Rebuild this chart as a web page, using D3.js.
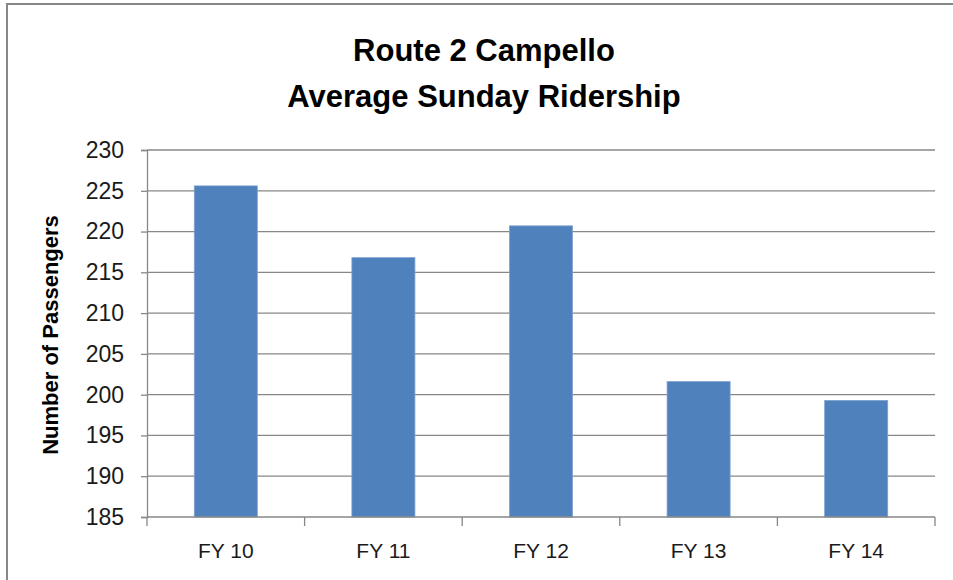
<!DOCTYPE html>
<html lang="en">
<head>
    <meta charset="UTF-8">
    <title>Route 2 Campello Average Sunday Ridership</title>
    <script src="https://d3js.org/d3.v7.min.js"></script>
    <style>
        body { margin: 0; background: #fff; }
        svg { display: block; font-family: "Liberation Sans", Arial, sans-serif; }
    </style>
</head>
<body>
    <svg id="chart" width="953" height="580"></svg>

    <script>
        // Chart data
        const years = ["FY 10", "FY 11", "FY 12", "FY 13", "FY 14"];
        const riders = [225.6, 216.8, 220.7, 201.6, 199.3];
        const yTicks = [185, 190, 195, 200, 205, 210, 215, 220, 225, 230];
        const titleLines = ["Route 2 Campello", "Average Sunday Ridership"];
        const yLabel = "Number of Passengers";

        const svg = d3.select("#chart");
        const plotLeft = 147, plotRight = 935, plotTop = 150, plotBottom = 517;
        const gray = "#878787";

        // outer frame (runs past the window edge)
        svg.append("rect")
            .attr("x", 7).attr("y", 4)
            .attr("width", 1000).attr("height", 700)
            .attr("fill", "none")
            .attr("stroke", gray)
            .attr("stroke-width", 2);

        // scales
        const x = d3.scaleBand()
            .domain(years)
            .range([plotLeft, plotRight])
            .paddingInner(0.6)
            .paddingOuter(0.3);

        const y = d3.scaleLinear()
            .domain([185, 230])
            .range([plotBottom, plotTop]);

        // gridlines
        svg.append("g")
            .selectAll("line")
            .data(yTicks.slice(1))
            .join("line")
            .attr("x1", plotLeft).attr("x2", plotRight)
            .attr("y1", d => y(d)).attr("y2", d => y(d))
            .attr("stroke", gray)
            .attr("stroke-width", 1.3);

        // bars
        svg.append("g")
            .selectAll("rect")
            .data(riders)
            .join("rect")
            .attr("x", (d, i) => x(years[i]))
            .attr("y", d => y(d))
            .attr("width", x.bandwidth())
            .attr("height", d => y(185) - y(d))
            .attr("fill", "#4F81BD")
            .attr("stroke", "#7ea2d0")
            .attr("stroke-width", 0.8);

        // y axis
        const yAxis = svg.append("g")
            .attr("transform", `translate(${plotLeft},0)`)
            .call(d3.axisLeft(y).tickValues(yTicks).tickSize(6).tickPadding(17));
        yAxis.select(".domain").attr("stroke", gray).attr("stroke-width", 1.3);
        yAxis.selectAll(".tick line").attr("stroke", gray).attr("stroke-width", 1.3);
        yAxis.selectAll("text")
            .attr("font-size", 23)
            .attr("fill", "#1a1a1a")
            .attr("font-family", "Liberation Sans, Arial, sans-serif");

        // x axis, ticks between categories
        const xAxis = svg.append("g")
            .attr("transform", `translate(0,${plotBottom})`);
        xAxis.append("line")
            .attr("x1", plotLeft).attr("x2", plotRight)
            .attr("stroke", gray).attr("stroke-width", 1.3);
        const bounds = years.map((d, i) => plotLeft + i * x.step());
        bounds.push(plotRight);
        xAxis.selectAll(".xt")
            .data(bounds)
            .join("line")
            .attr("class", "xt")
            .attr("x1", d => d).attr("x2", d => d)
            .attr("y1", 0).attr("y2", 9)
            .attr("stroke", gray).attr("stroke-width", 1.3);
        xAxis.selectAll("text")
            .data(years)
            .join("text")
            .attr("x", d => x(d) + x.bandwidth() / 2)
            .attr("y", 41)
            .attr("text-anchor", "middle")
            .attr("font-size", 21)
            .attr("fill", "#1a1a1a")
            .text(d => d);

        // title
        svg.append("g")
            .selectAll("text")
            .data(titleLines)
            .join("text")
            .attr("x", 484)
            .attr("y", (d, i) => 61 + i * 46)
            .attr("text-anchor", "middle")
            .attr("font-size", 31)
            .attr("font-weight", "bold")
            .text(d => d);

        // y label
        svg.append("text")
            .attr("transform", "translate(58,335) rotate(-90)")
            .attr("text-anchor", "middle")
            .attr("font-size", 22)
            .attr("font-weight", "bold")
            .text(yLabel);
    </script>
</body>
</html>
